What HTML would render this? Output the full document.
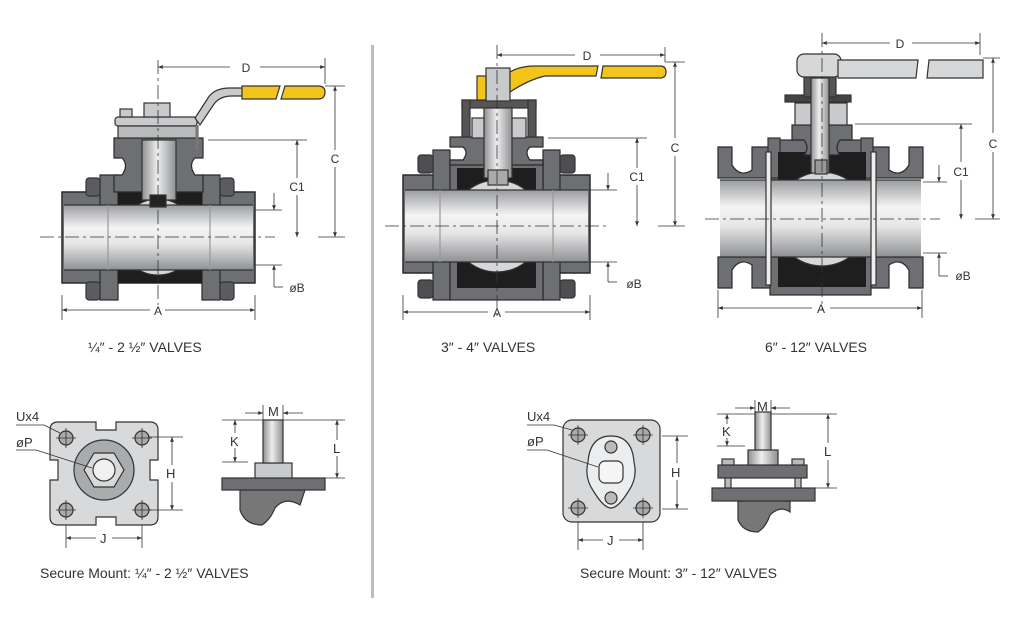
<!DOCTYPE html>
<html><head><meta charset="utf-8"><style>
html,body{margin:0;padding:0;background:#fff}
svg{display:block}
text{font-family:"Liberation Sans",sans-serif;fill:#333}
</style></head><body>
<svg width="1024" height="630" viewBox="0 0 1024 630" xmlns="http://www.w3.org/2000/svg">
<defs>
<linearGradient id="bore" x1="0" y1="0" x2="0" y2="1">
<stop offset="0" stop-color="#9a9c9f"/><stop offset="0.35" stop-color="#f4f4f4"/><stop offset="0.6" stop-color="#e6e6e6"/><stop offset="1" stop-color="#8e9093"/></linearGradient>
<linearGradient id="stem" x1="0" y1="0" x2="1" y2="0">
<stop offset="0" stop-color="#8e9093"/><stop offset="0.45" stop-color="#eeeeee"/><stop offset="1" stop-color="#8e9093"/></linearGradient>
<marker id="ar" viewBox="0 0 10 10" refX="10" refY="5" markerWidth="6" markerHeight="6" orient="auto-start-reverse"><path d="M0,1 L10,5 L0,9 z" fill="#333"/></marker>
</defs>
<g stroke="#333" stroke-width="1.2">
<!-- ========== VALVE 1 ========== -->
<rect x="62" y="192" width="193" height="91" fill="#6d6f72" stroke="#2a2a2a" stroke-width="1.5"/>
<rect x="100" y="175" width="18" height="125" fill="#6d6f72" stroke="#2a2a2a"/>
<rect x="202" y="175" width="18" height="125" fill="#6d6f72" stroke="#2a2a2a"/>
<rect x="86" y="178" width="14" height="18" rx="3" fill="#5a5c5f"/>
<rect x="220" y="178" width="14" height="18" rx="3" fill="#5a5c5f"/>
<rect x="86" y="282" width="14" height="18" rx="3" fill="#5a5c5f"/>
<rect x="220" y="282" width="14" height="18" rx="3" fill="#5a5c5f"/>
<rect x="64" y="205" width="189" height="65" fill="url(#bore)" stroke="none"/>
<rect x="118" y="192" width="84" height="91" fill="#1e1e1e" stroke="none"/>
<circle cx="158" cy="237" r="38" fill="#d6d7d8" stroke="#333"/>
<rect x="118" y="205" width="84" height="65" fill="url(#bore)" stroke="none"/>
<line x1="64" y1="205" x2="253" y2="205"/><line x1="64" y1="270" x2="253" y2="270"/>
<line x1="108" y1="205" x2="108" y2="270" stroke="#999"/><line x1="210" y1="205" x2="210" y2="270" stroke="#999"/>
<!-- bonnet -->
<path d="M114,138 H203 V158 H195 Q188,165 195,175 H203 V192 H114 V175 H122 Q129,165 122,158 H114 Z" fill="#6d6f72" stroke="#2a2a2a"/>
<rect x="142" y="140" width="34" height="60" fill="url(#stem)"/>
<rect x="150" y="195" width="16" height="12" fill="#222"/>
<rect x="115" y="117" width="82" height="9" rx="3" fill="#c9cacc"/>
<rect x="118" y="126" width="80" height="12" fill="#b8babc"/>
<rect x="144" y="103" width="26" height="14" fill="#c9cacc"/>
<rect x="120" y="109" width="12" height="8" fill="#c9cacc"/>
<path d="M195,118 L208,98 Q214,88 230,88 L246,88 L246,96 L232,96 Q220,96 214,104 L200,125 Z" fill="#c9cacc"/>
<path d="M197,125 L197,150" stroke="#777" stroke-width="3"/>
<path d="M242,86 H280 L276,99 H242 Z" fill="#f3c51a" stroke="#333"/>
<path d="M285,86 H318 Q325,86 325,92 Q325,99 318,99 H281 Z" fill="#f3c51a" stroke="#333"/>
<!-- ========== VALVE 2 ========== -->
<rect x="403" y="175" width="187" height="98" fill="#6d6f72" stroke="#2a2a2a" stroke-width="1.5"/>
<rect x="433" y="150" width="17" height="150" fill="#6d6f72" stroke="#2a2a2a"/>
<rect x="543" y="150" width="17" height="150" fill="#6d6f72" stroke="#2a2a2a"/>
<rect x="418" y="155" width="15" height="18" rx="3" fill="#4c4e51"/><rect x="560" y="155" width="15" height="18" rx="3" fill="#4c4e51"/>
<rect x="418" y="280" width="15" height="18" rx="3" fill="#4c4e51"/><rect x="560" y="280" width="15" height="18" rx="3" fill="#4c4e51"/>
<rect x="450" y="160" width="93" height="140" fill="#6d6f72" stroke="#2a2a2a"/>
<rect x="457" y="168" width="79" height="120" fill="#1e1e1e" stroke="none"/>
<circle cx="497" cy="226" r="46" fill="#d6d7d8"/>
<rect x="405" y="190" width="183" height="72" fill="url(#bore)" stroke="none"/>
<line x1="405" y1="190" x2="588" y2="190"/><line x1="405" y1="262" x2="588" y2="262"/>
<line x1="440" y1="190" x2="440" y2="262" stroke="#999"/><line x1="553" y1="190" x2="553" y2="262" stroke="#999"/>
<path d="M450,137 H543 V147 H530 Q524,152 530,160 H543 V165 H450 V160 H463 Q469,152 463,147 H450 Z" fill="#6d6f72" stroke="#2a2a2a"/>
<rect x="462" y="100" width="74" height="8" fill="#555"/>
<rect x="462" y="100" width="8" height="37" fill="#555"/>
<rect x="528" y="100" width="8" height="37" fill="#555"/>
<rect x="472" y="118" width="54" height="20" fill="#c9cacc"/>
<rect x="484" y="108" width="28" height="70" fill="url(#stem)"/>
<rect x="488" y="170" width="20" height="15" fill="#aaa"/>
<rect x="486" y="68" width="24" height="33" fill="#c9cacc"/>
<path d="M477,76 H486 V100 H477 Z" fill="#f3c51a"/>
<path d="M510,72 Q520,66 535,66 H598 L596,76 H545 Q528,80 510,92 Z" fill="#f3c51a"/>
<path d="M603,66 H660 Q666,66 666,72 Q666,78 660,78 H601 Z" fill="#f3c51a"/>
<!-- ========== VALVE 3 ========== -->
<path d="M718,147 H732 V165 Q740,178 752,170 V147 H770 V178 H718 Z" fill="#6d6f72" stroke="#2a2a2a"/>
<path d="M923,147 H909 V165 Q901,178 889,170 V147 H871 V178 H923 Z" fill="#6d6f72" stroke="#2a2a2a"/>
<path d="M718,288 H732 V270 Q740,257 752,265 V288 H770 V257 H718 Z" fill="#6d6f72" stroke="#2a2a2a"/>
<path d="M923,288 H909 V270 Q901,257 889,265 V288 H871 V257 H923 Z" fill="#6d6f72" stroke="#2a2a2a"/>
<rect x="770" y="140" width="101" height="155" fill="#6d6f72" stroke="#2a2a2a"/>
<rect x="768" y="138" width="12" height="40" fill="#6d6f72"/><rect x="861" y="138" width="12" height="40" fill="#6d6f72"/>
<rect x="778" y="152" width="88" height="135" fill="#1e1e1e" stroke="none"/>
<circle cx="822" cy="219" r="47" fill="#d6d7d8"/>
<rect x="720" y="180" width="201" height="77" fill="url(#bore)" stroke="none"/>
<line x1="720" y1="180" x2="921" y2="180"/><line x1="720" y1="257" x2="921" y2="257"/>
<rect x="766" y="152" width="5" height="133" fill="#eee"/><rect x="871" y="152" width="5" height="133" fill="#eee"/>
<path d="M792,125 H852 V140 H840 Q834,148 840,155 H804 Q810,148 804,140 H792 Z" fill="#6d6f72" stroke="#2a2a2a"/>
<rect x="795" y="103" width="52" height="22" fill="#c9cacc"/>
<rect x="785" y="95" width="66" height="7" fill="#444"/>
<rect x="804" y="75" width="32" height="22" fill="#555"/>
<rect x="811" y="78" width="18" height="95" fill="url(#stem)"/>
<rect x="815" y="160" width="12" height="14" fill="#999"/>
<rect x="797" y="54" width="44" height="23" rx="7" fill="#d6d7d8"/>
<path d="M838,60 H918 L916,78 H838 Z" fill="#d6d7d8"/>
<path d="M929,60 H983 V78 H927 Z" fill="#d6d7d8"/>
</g>
<!-- centerlines -->
<g stroke="#333" stroke-width="0.8" stroke-dasharray="14,4,3,4" fill="none">
<line x1="40" y1="237" x2="275" y2="237"/><line x1="158" y1="60" x2="158" y2="305"/>
<line x1="385" y1="226" x2="608" y2="226"/><line x1="497" y1="45" x2="497" y2="318"/>
<line x1="705" y1="219" x2="940" y2="219"/><line x1="822" y1="33" x2="822" y2="310"/>
</g>
<!-- dimension lines -->
<g stroke="#333" stroke-width="0.8" fill="none">
<!-- V1 -->
<line x1="158" y1="67" x2="230" y2="67" marker-start="url(#ar)"/><line x1="260" y1="67" x2="325" y2="67" marker-end="url(#ar)"/><line x1="325" y1="58" x2="325" y2="84"/>
<line x1="325" y1="86" x2="345" y2="86"/><line x1="318" y1="237" x2="345" y2="237"/>
<line x1="335" y1="86" x2="335" y2="150" marker-start="url(#ar)"/><line x1="335" y1="167" x2="335" y2="237" marker-end="url(#ar)"/>
<line x1="208" y1="140" x2="307" y2="140"/>
<line x1="297" y1="140" x2="297" y2="178" marker-start="url(#ar)"/><line x1="297" y1="195" x2="297" y2="237" marker-end="url(#ar)"/>
<line x1="255" y1="210" x2="282" y2="210"/><line x1="274" y1="193" x2="274" y2="210" marker-end="url(#ar)"/>
<line x1="255" y1="265" x2="282" y2="265"/><line x1="274" y1="265" x2="274" y2="287" marker-start="url(#ar)"/><line x1="274" y1="287" x2="283" y2="287"/>
<line x1="62" y1="295" x2="62" y2="320"/><line x1="255" y1="295" x2="255" y2="320"/>
<line x1="62" y1="310" x2="150" y2="310" marker-start="url(#ar)"/><line x1="165" y1="310" x2="255" y2="310" marker-end="url(#ar)"/>
<!-- V2 -->
<line x1="497" y1="55" x2="575" y2="55" marker-start="url(#ar)"/><line x1="600" y1="55" x2="665" y2="55" marker-end="url(#ar)"/><line x1="665" y1="47" x2="665" y2="62"/>
<line x1="665" y1="62" x2="685" y2="62"/><line x1="658" y1="226" x2="685" y2="226"/>
<line x1="675" y1="62" x2="675" y2="138" marker-start="url(#ar)"/><line x1="675" y1="156" x2="675" y2="226" marker-end="url(#ar)"/>
<line x1="548" y1="138" x2="647" y2="138"/>
<line x1="637" y1="138" x2="637" y2="168" marker-start="url(#ar)"/><line x1="637" y1="185" x2="637" y2="226" marker-end="url(#ar)"/>
<line x1="588" y1="190" x2="617" y2="190"/><line x1="608" y1="173" x2="608" y2="190" marker-end="url(#ar)"/>
<line x1="588" y1="262" x2="617" y2="262"/><line x1="608" y1="262" x2="608" y2="282" marker-start="url(#ar)"/><line x1="608" y1="282" x2="617" y2="282"/>
<line x1="403" y1="295" x2="403" y2="320"/><line x1="590" y1="295" x2="590" y2="320"/>
<line x1="403" y1="312" x2="488" y2="312" marker-start="url(#ar)"/><line x1="505" y1="312" x2="590" y2="312" marker-end="url(#ar)"/>
<!-- V3 -->
<line x1="822" y1="43" x2="890" y2="43" marker-start="url(#ar)"/><line x1="912" y1="43" x2="980" y2="43" marker-end="url(#ar)"/><line x1="980" y1="33" x2="980" y2="55"/>
<line x1="983" y1="58" x2="1000" y2="58"/><line x1="975" y1="219" x2="1000" y2="219"/>
<line x1="993" y1="58" x2="993" y2="133" marker-start="url(#ar)"/><line x1="993" y1="152" x2="993" y2="219" marker-end="url(#ar)"/>
<line x1="855" y1="124" x2="972" y2="124"/>
<line x1="961" y1="124" x2="961" y2="162" marker-start="url(#ar)"/><line x1="961" y1="180" x2="961" y2="219" marker-end="url(#ar)"/>
<line x1="923" y1="182" x2="947" y2="182"/><line x1="939" y1="165" x2="939" y2="182" marker-end="url(#ar)"/>
<line x1="923" y1="253" x2="947" y2="253"/><line x1="939" y1="253" x2="939" y2="276" marker-start="url(#ar)"/><line x1="939" y1="276" x2="948" y2="276"/>
<line x1="718" y1="290" x2="718" y2="318"/><line x1="922" y1="290" x2="922" y2="318"/>
<line x1="718" y1="308" x2="812" y2="308" marker-start="url(#ar)"/><line x1="830" y1="308" x2="922" y2="308" marker-end="url(#ar)"/>
</g>
<g font-size="12" text-anchor="middle">
<text x="246" y="72">D</text><text x="335" y="163">C</text><text x="297" y="191">C1</text><text x="297" y="292">øB</text><text x="158" y="315">A</text>
<text x="587" y="60">D</text><text x="675" y="152">C</text><text x="637" y="181">C1</text><text x="634" y="288">øB</text><text x="497" y="317">A</text>
<text x="900" y="48">D</text><text x="993" y="148">C</text><text x="961" y="176">C1</text><text x="963" y="280">øB</text><text x="821" y="313">A</text>
</g>
<g font-size="14">
<text x="88" y="352">¼″ - 2 ½″ VALVES</text>
<text x="441" y="352">3″ - 4″ VALVES</text>
<text x="765" y="352">6″ - 12″ VALVES</text>
<text x="40" y="578">Secure Mount: ¼″ - 2 ½″ VALVES</text>
<text x="580" y="578">Secure Mount: 3″ - 12″ VALVES</text>
</g>
<rect x="371" y="45" width="3" height="553" fill="#bdbdbd"/>
<!-- ========== MOUNT 1 ========== -->
<g stroke="#333" stroke-width="1.2">
<path d="M58,422 H96 V430 H116 V422 H150 Q158,422 158,430 V460 H150 V480 H158 V517 Q158,525 150,525 H116 V517 H96 V525 H58 Q50,525 50,517 V480 H58 V460 H50 V430 Q50,422 58,422 Z" fill="#d8d9da"/>
<circle cx="104" cy="470" r="30" fill="#a9abad"/>
<polygon points="124,470 114,487 94,487 84,470 94,453 114,453" fill="#d8d9da"/>
<circle cx="104" cy="470" r="11" fill="#f0f0f0"/>
<g fill="#aaa"><circle cx="66" cy="438" r="7"/><circle cx="142" cy="438" r="7"/><circle cx="66" cy="510" r="7"/><circle cx="142" cy="510" r="7"/></g>
</g>
<g stroke="#333" stroke-width="0.8" fill="none">
<path d="M56,438 H76 M66,428 V448 M132,438 H152 M142,428 V448 M56,510 H76 M66,500 V520 M132,510 H152 M142,500 V520"/>
<line x1="16" y1="425" x2="44" y2="425"/><line x1="44" y1="425" x2="60" y2="433"/>
<line x1="16" y1="450" x2="36" y2="450"/><line x1="36" y1="450" x2="92" y2="468"/>
<line x1="148" y1="437" x2="183" y2="437"/><line x1="148" y1="510" x2="183" y2="510"/>
<line x1="172" y1="437" x2="172" y2="465" marker-start="url(#ar)"/><line x1="172" y1="482" x2="172" y2="510" marker-end="url(#ar)"/>
<line x1="66" y1="525" x2="66" y2="548"/><line x1="142" y1="525" x2="142" y2="548"/>
<line x1="66" y1="538" x2="96" y2="538" marker-start="url(#ar)"/><line x1="112" y1="538" x2="142" y2="538" marker-end="url(#ar)"/>
</g>
<g font-size="13"><text x="16" y="421">Ux4</text><text x="16" y="447">øP</text><text x="166" y="478">H</text><text x="100" y="543">J</text></g>
<g stroke="#333" stroke-width="1.2">
<path d="M240,490 V510 Q245,525 262,525 Q270,520 275,508 Q285,496 300,505 L305,490 Z" fill="#777"/>
<rect x="222" y="478" width="103" height="12" fill="#6d6f72"/>
<rect x="255" y="463" width="37" height="15" fill="#c9cacc"/>
<rect x="263" y="420" width="20" height="43" fill="url(#stem)"/>
</g>
<g stroke="#333" stroke-width="0.8" fill="none">
<line x1="245" y1="413" x2="263" y2="413" marker-end="url(#ar)"/><line x1="283" y1="413" x2="303" y2="413" marker-start="url(#ar)"/>
<line x1="263" y1="405" x2="263" y2="420"/><line x1="283" y1="405" x2="283" y2="420"/>
<line x1="222" y1="420" x2="345" y2="420"/><line x1="222" y1="462" x2="248" y2="462"/><line x1="320" y1="478" x2="345" y2="478"/>
<line x1="235" y1="420" x2="235" y2="433" marker-start="url(#ar)"/><line x1="235" y1="448" x2="235" y2="462" marker-end="url(#ar)"/>
<line x1="337" y1="420" x2="337" y2="440" marker-start="url(#ar)"/><line x1="337" y1="456" x2="337" y2="478" marker-end="url(#ar)"/>
</g>
<g font-size="13"><text x="268" y="416">M</text><text x="230" y="446">K</text><text x="333" y="453">L</text></g>
<!-- ========== MOUNT 2 ========== -->
<g stroke="#333" stroke-width="1.2">
<rect x="563" y="420" width="97" height="102" rx="9" fill="#d8d9da"/>
<path d="M611,436 Q632,436 634,462 Q638,478 628,492 Q618,508 611,508 Q604,508 594,492 Q584,478 588,462 Q590,436 611,436 Z" fill="#ecedee"/>
<circle cx="611" cy="447" r="6" fill="#bbb"/><circle cx="611" cy="498" r="6" fill="#bbb"/>
<rect x="599" y="461" width="24" height="22" rx="6" fill="#f5f5f5"/>
<g fill="#aaa"><circle cx="578" cy="435" r="7"/><circle cx="643" cy="435" r="7"/><circle cx="578" cy="508" r="7"/><circle cx="643" cy="508" r="7"/></g>
</g>
<g stroke="#333" stroke-width="0.8" fill="none">
<path d="M568,435 H588 M578,425 V445 M633,435 H653 M643,425 V445 M568,508 H588 M578,498 V518 M633,508 H653 M643,498 V518"/>
<line x1="527" y1="425" x2="554" y2="425"/><line x1="554" y1="425" x2="572" y2="430"/>
<line x1="527" y1="450" x2="547" y2="450"/><line x1="547" y1="450" x2="598" y2="467"/>
<line x1="662" y1="436" x2="688" y2="436"/><line x1="662" y1="509" x2="688" y2="509"/>
<line x1="677" y1="436" x2="677" y2="463" marker-start="url(#ar)"/><line x1="677" y1="480" x2="677" y2="509" marker-end="url(#ar)"/>
<line x1="578" y1="522" x2="578" y2="550"/><line x1="643" y1="522" x2="643" y2="550"/>
<line x1="578" y1="540" x2="603" y2="540" marker-start="url(#ar)"/><line x1="619" y1="540" x2="643" y2="540" marker-end="url(#ar)"/>
</g>
<g font-size="13"><text x="527" y="421">Ux4</text><text x="527" y="446">øP</text><text x="671" y="477">H</text><text x="607" y="545">J</text></g>
<g stroke="#333" stroke-width="1.2">
<path d="M738,501 V520 Q743,532 758,532 Q766,527 770,515 Q780,505 790,512 L790,501 Z" fill="#777"/>
<rect x="725" y="460" width="6" height="28" fill="#bbb"/><rect x="795" y="460" width="6" height="28" fill="#bbb"/>
<rect x="712" y="488" width="103" height="13" fill="#6d6f72"/>
<rect x="718" y="465" width="89" height="13" fill="#6d6f72"/>
<rect x="722" y="459" width="12" height="6" fill="#bbb"/><rect x="792" y="459" width="12" height="6" fill="#bbb"/>
<rect x="748" y="450" width="30" height="15" fill="url(#stem)"/>
<rect x="755" y="412" width="16" height="38" fill="url(#stem)"/>
</g>
<g stroke="#333" stroke-width="0.8" fill="none">
<line x1="735" y1="408" x2="755" y2="408" marker-end="url(#ar)"/><line x1="771" y1="408" x2="790" y2="408" marker-start="url(#ar)"/>
<line x1="755" y1="400" x2="755" y2="412"/><line x1="771" y1="400" x2="771" y2="412"/>
<line x1="717" y1="414" x2="755" y2="414"/><line x1="717" y1="446" x2="745" y2="446"/>
<line x1="771" y1="414" x2="837" y2="414"/><line x1="815" y1="488" x2="837" y2="488"/>
<line x1="727" y1="414" x2="727" y2="424" marker-start="url(#ar)"/><line x1="727" y1="438" x2="727" y2="446" marker-end="url(#ar)"/>
<line x1="828" y1="414" x2="828" y2="443" marker-start="url(#ar)"/><line x1="828" y1="460" x2="828" y2="488" marker-end="url(#ar)"/>
</g>
<g font-size="13"><text x="757" y="411">M</text><text x="722" y="436">K</text><text x="824" y="456">L</text></g>
</svg>
</body></html>
